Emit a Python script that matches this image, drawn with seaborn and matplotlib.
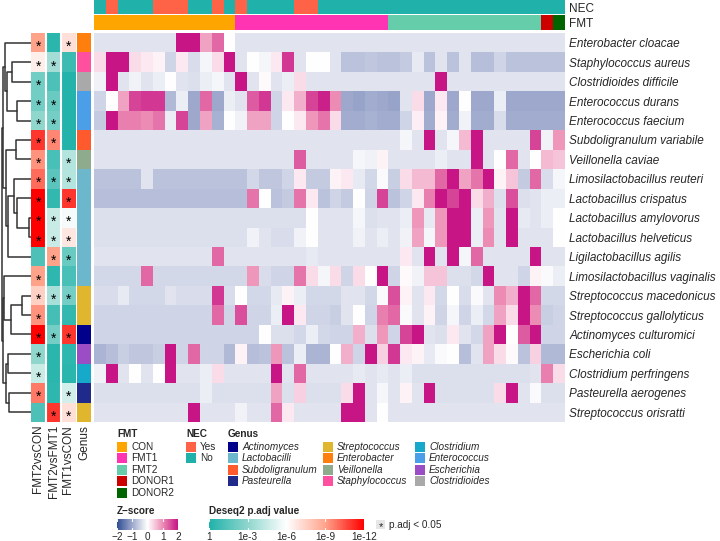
import numpy as np
import pandas as pd
import seaborn as sns
import matplotlib
matplotlib.use("Agg")
import matplotlib.pyplot as plt
import matplotlib.cm as cm
from matplotlib.colors import LinearSegmentedColormap, ListedColormap, Normalize
from matplotlib.patches import Rectangle

# ---- data ----
species = ["Enterobacter cloacae", "Staphylococcus aureus", "Clostridioides difficile",
           "Enterococcus durans", "Enterococcus faecium", "Subdoligranulum variabile",
           "Veillonella caviae", "Limosilactobacillus reuteri", "Lactobacillus crispatus",
           "Lactobacillus amylovorus", "Lactobacillus helveticus", "Ligilactobacillus agilis",
           "Limosilactobacillus vaginalis", "Streptococcus macedonicus", "Streptococcus gallolyticus",
           "Actinomyces culturomici", "Escherichia coli", "Clostridium perfringens",
           "Pasteurella aerogenes", "Streptococcus orisratti"]

genus = ["Enterobacter", "Staphylococcus", "Clostridioides", "Enterococcus", "Enterococcus",
         "Subdoligranulum", "Veillonella", "Lactobacilli", "Lactobacilli", "Lactobacilli",
         "Lactobacilli", "Lactobacilli", "Lactobacilli", "Streptococcus", "Streptococcus",
         "Actinomyces", "Escherichia", "Clostridium", "Pasteurella", "Streptococcus"]

fmt_group = ["CON"] * 12 + ["FMT1"] * 13 + ["FMT2"] * 13 + ["DONOR1", "DONOR2"]
nec_status = ["No", "Yes", "No", "No", "No", "Yes", "Yes", "Yes", "No", "No",
              "Yes", "No", "Yes", "No", "No", "No", "No", "Yes", "Yes", "No",
              "No", "No", "No", "No", "No", "No", "No", "No", "No", "No",
              "No", "No", "No", "No", "No", "No", "No", "No", "No", "No"]

zscores = [
    [-0.3, -0.3, -0.3, -0.3, -0.3, -0.3, -0.3, 2.3, 2.3, 0.8, 1.3, 0.0, -0.3, -0.3, -0.3, -0.3, -0.3, -0.3, -0.3, -0.3,
     -0.3, -0.3, -0.3, -0.3, -0.3, -0.3, -0.3, -0.3, -0.3, -0.3, -0.3, -0.3, -0.3, -0.3, -0.3, -0.3, -0.3, -0.3, -0.3, -0.3],
    [0.3, 2.3, 2.3, 0.3, 0.2, 0.1, -0.5, 0.2, -0.4, -0.1, 0.3, 2.3, -0.3, 0.0, -0.1, 0.2, 1.7, -0.3, 0.0, 0.0,
     -0.3, -0.7, -0.7, -0.65, -0.7, -0.7, -0.6, -0.25, -0.7, -0.3, -0.7, -0.3, -0.75, -0.75, -0.5, -0.7, -0.7, -0.7, -0.7, -0.7],
    [-0.15, 2.3, -0.3, -0.15, -0.3, -0.2, 0.0, -0.3, -0.35, -0.2, -0.1, -0.3, 2.3, -0.3, 0.05, -0.3, -0.2, 0.3, -0.3, -0.3,
     -0.3, -0.3, -0.3, -0.3, -0.3, -0.3, -0.3, -0.3, -0.3, 2.3, -0.3, -0.3, -0.3, -0.3, -0.3, -0.3, -0.3, -0.3, -0.3, -0.3],
    [-0.5, 0.0, 0.8, 1.6, 1.7, 1.7, -0.8, -0.2, -1.0, 1.3, -1.0, -0.2, -0.3, 1.4, 1.7, -0.5, 0.2, 0.7, 1.6, 1.9,
     1.0, -1.0, -1.05, -0.95, -1.0, -1.05, -0.3, 0.3, -1.0, 0.2, -1.0, 0.0, -1.0, -1.0, -0.2, -1.0, -1.0, -1.0, -1.0, -1.0],
    [-0.6, 2.3, 1.1, 1.1, 1.0, 1.2, -0.2, 1.6, -1.0, 0.8, -0.9, 0.0, -0.15, 0.8, 0.8, -0.5, 0.0, 0.2, 0.9, 1.2,
     0.3, -0.95, -0.95, -0.9, -0.95, -0.95, -0.5, 0.15, -0.95, 0.1, -0.95, -0.15, -0.95, -0.95, -0.4, -0.95, -0.95, -0.95, -0.95, -0.95],
    [-0.3, -0.3, -0.3, -0.3, -0.3, -0.3, -0.3, -0.3, -0.3, -0.3, -0.3, -0.3, -0.3, -0.3, -0.3, -0.3, -0.3, -0.3, -0.3, -0.3,
     -0.3, -0.3, -0.3, -0.3, -0.3, -0.3, -0.1, -0.3, 2.3, -0.3, -0.1, 0.6, 2.3, -0.3, -0.3, -0.3, -0.3, 1.6, -0.15, 0.9],
    [-0.3, -0.3, -0.3, -0.3, -0.3, -0.3, -0.3, -0.3, -0.3, -0.3, -0.3, -0.3, -0.3, -0.3, -0.3, -0.3, -0.3, 1.4, -0.3, -0.3,
     -0.3, -0.3, -0.1, -0.15, 0.1, -0.3, -0.3, -0.3, -0.3, -0.2, -0.3, -0.3, 2.3, -0.3, 0.0, 1.3, -0.3, 0.0, 0.6, 0.5],
    [-0.7, -0.7, -0.7, -0.7, -0.3, -0.7, -0.7, -0.7, -0.7, -0.7, -0.7, -0.7, -0.7, -0.45, -0.65, -0.65, -0.5, 0.2, -0.6, -0.6,
     0.1, 0.2, -0.25, -0.45, -0.05, -0.55, 0.3, 0.6, 0.6, 1.3, 2.3, 0.8, 1.2, 2.3, 0.1, 0.5, -0.6, 1.3, -0.4, -0.1],
    [-0.75, -0.75, -0.75, -0.75, -0.75, -0.75, -0.75, -0.75, -0.75, -0.75, -0.75, -0.75, -0.75, 1.2, 0.0, -0.7, -0.6, 1.2, 0.2, -0.7,
     -0.5, -0.6, 0.0, -0.5, 1.6, -0.7, -0.5, 0.2, 1.1, 2.3, 1.6, 2.3, 0.3, 0.7, -0.35, 1.5, -0.35, -0.3, -0.2, -0.2],
    [-0.35, -0.35, -0.35, -0.35, -0.35, -0.35, -0.35, -0.35, -0.35, -0.35, -0.35, -0.35, -0.35, -0.35, -0.35, -0.35, -0.35, -0.35, 0.0, -0.3,
     -0.3, -0.3, -0.1, -0.35, -0.3, -0.3, -0.2, 0.9, -0.25, 0.9, 2.3, 2.3, -0.2, 0.9, -0.3, 2.3, -0.25, -0.3, -0.2, 0.0],
    [-0.35, -0.35, -0.35, -0.35, -0.35, -0.35, -0.35, -0.35, -0.35, -0.35, -0.35, -0.35, -0.35, -0.15, -0.3, -0.4, -0.4, -0.15, 0.0, -0.3,
     -0.3, -0.3, -0.15, -0.3, -0.2, -0.3, -0.15, 0.8, -0.1, 0.9, 2.3, 2.3, -0.2, 1.0, -0.3, 2.3, -0.3, -0.3, -0.3, 0.0],
    [-0.3, -0.3, -0.3, -0.3, -0.3, -0.3, -0.3, -0.3, -0.3, -0.3, 1.3, -0.3, -0.3, -0.3, -0.3, -0.3, -0.3, -0.3, -0.25, -0.3,
     -0.3, -0.3, -0.3, -0.3, -0.3, -0.3, 0.2, -0.3, 2.3, -0.3, 2.3, -0.1, 1.3, -0.3, -0.3, -0.3, -0.3, 2.3, -0.3, -0.3],
    [-0.45, -0.45, -0.45, -0.45, 1.3, -0.45, -0.45, -0.45, -0.45, -0.45, -0.45, -0.45, -0.45, 0.9, -0.4, -0.5, -0.5, 1.2, 0.3, -0.1,
     0.3, -0.5, 0.3, 0.0, 2.3, -0.5, 0.05, -0.15, 0.5, 0.5, -0.35, -0.35, -0.45, 2.3, -0.3, -0.3, -0.5, 0.1, -0.05, -0.2],
    [-0.4, -0.4, -0.25, -0.45, -0.45, -0.45, -0.3, -0.4, -0.4, -0.4, 1.7, -0.4, 0.0, -0.45, -0.45, -0.25, 0.1, -0.2, -0.45, -0.45,
     -0.45, -0.3, -0.3, -0.45, -0.05, 1.5, 0.1, -0.3, 0.2, -0.45, 0.0, -0.4, -0.05, -0.3, 1.0, 0.7, 2.3, 1.3, -0.45, -0.45],
    [-0.5, -0.5, -0.5, -0.5, -0.5, -0.5, -0.5, -0.5, -0.5, -0.5, 1.3, -0.5, 1.5, -0.5, -0.5, -0.2, 2.3, 0.2, -0.5, -0.5,
     -0.55, -0.3, 0.0, -0.5, 1.1, 1.3, -0.05, -0.3, 0.1, -0.5, -0.1, -0.5, -0.2, -0.45, 0.8, 0.3, 2.3, 1.0, -0.55, -0.5],
    [-0.5, -0.5, -0.5, -0.5, -0.5, -0.5, -0.5, -0.5, -0.5, -0.5, -0.5, -0.5, -0.5, -0.5, 0.0, -0.35, -0.35, -0.45, -0.2, -0.45,
     -0.5, -0.5, 0.7, -0.35, 0.9, -0.5, 1.6, 2.3, -0.3, -0.35, 0.2, -0.3, -0.45, 0.8, 2.3, 0.0, 1.4, 2.3, -0.5, -0.5],
    [-0.85, -0.75, -0.55, -0.65, -0.65, -0.55, 2.3, -0.5, 1.3, -0.5, -0.5, -0.8, 0.1, -0.75, -0.7, 0.9, -0.7, -0.2, -0.85, -0.85,
     0.0, 0.7, -0.5, 2.3, 0.4, 1.7, 0.2, 0.1, -0.25, -0.05, 0.0, -0.75, -0.3, 0.8, 0.3, 0.05, -0.7, 0.4, -0.8, -0.8],
    [-0.15, 2.3, -0.3, 0.0, -0.3, 0.0, 2.3, -0.3, -0.3, -0.2, 0.3, -0.3, -0.3, -0.3, -0.3, 2.3, -0.3, 1.3, -0.3, -0.3,
     -0.3, -0.3, -0.25, -0.3, -0.25, -0.3, -0.2, -0.35, -0.35, -0.35, -0.35, -0.35, -0.35, -0.35, -0.35, -0.35, -0.35, -0.3, 1.1, 0.3],
    [-0.35, -0.35, -0.35, -0.35, -0.35, -0.35, -0.35, -0.35, -0.35, -0.2, -0.35, -0.35, -0.35, -0.35, -0.35, 0.8, -0.35, 0.4, -0.35, -0.35,
     -0.35, 0.3, 2.3, -0.3, -0.1, -0.3, 0.1, -0.3, 2.3, -0.35, -0.35, -0.35, -0.35, -0.35, 0.3, 2.3, -0.3, -0.05, -0.35, -0.35],
    [-0.3, -0.3, -0.3, -0.3, -0.3, -0.3, -0.3, -0.3, 2.3, -0.3, -0.3, -0.3, -0.15, -0.3, -0.3, 1.3, 0.2, -0.3, -0.3, -0.3,
     -0.3, 2.3, 2.3, -0.3, 0.0, -0.3, -0.3, -0.3, -0.3, -0.3, -0.3, -0.3, -0.3, -0.3, -0.3, -0.3, -0.3, -0.3, -0.3, -0.3],
]

comparisons = ["FMT2vsCON", "FMT2vsFMT1", "FMT1vsCON"]
padj_fmt2_con = [1e-9, 3e-7, 6e-3, 6e-3, 1e-3, 1e-11, 5e-10, 1e-10, 1e-12, 1e-12,
                 1e-12, 0.06, 1e-9, 3e-8, 5e-10, 1e-12, 1e-3, 3e-5, 1.6e-10, 0.06]
padj_fmt2_fmt1 = [0.5, 3e-4, 0.06, 0.01, 5e-3, 3e-10, 0.08, 0.025, 0.3, 3e-5,
                  3e-5, 1e-9, 0.4, 2e-4, 0.1, 5e-3, 0.5, 0.5, 0.4, 1e-11]
padj_fmt1_con = [1e-7, 0.16, 0.8, 0.8, 0.8, 0.8, 1e-4, 1e-4, 1e-11, 2e-6,
                 1.6e-7, 0.01, 0.08, 5e-3, 0.3, 1e-11, 0.4, 0.5, 1.6e-5, 1e-7]

# row dendrogram merges: (left, right, height) -- new node ids start at 20
dendro_merges = [(9, 10, 1.7), (13, 14, 9.0), (8, 20, 14.0), (3, 4, 14.0), (5, 6, 15.0),
                 (7, 22, 16.7), (1, 2, 19.3), (21, 15, 20.0), (18, 19, 21.7), (25, 11, 22.7),
                 (16, 17, 23.3), (26, 23, 24.0), (24, 29, 25.3), (30, 28, 25.3), (0, 31, 26.0),
                 (12, 27, 26.7), (34, 32, 28.3), (35, 33, 27.7), (36, 37, 29.3)]

fmt_levels = ["CON", "FMT1", "FMT2", "DONOR1", "DONOR2"]
fmt_colors = ["#FFA500", "#FF34B3", "#66CDAA", "#CD0000", "#006400"]
nec_levels = ["Yes", "No"]
nec_colors = ["#FF6347", "#20B2AA"]
genus_levels = ["Actinomyces", "Lactobacilli", "Subdoligranulum", "Pasteurella",
                "Streptococcus", "Enterobacter", "Veillonella", "Staphylococcus",
                "Clostridium", "Enterococcus", "Escherichia", "Clostridioides"]
genus_colors = ["#00008B", "#6CB7CC", "#FF5A2E", "#1F2A8A", "#E0B62F", "#FF7F0E",
                "#8EAB8D", "#FF4F9F", "#17A9CA", "#4B9EE8", "#9A4DC4", "#A9A9A9"]

# ---- setup ----
sns.set_theme(style="white")
plt.rcParams["font.family"] = ["Liberation Sans", "DejaVu Sans"]

W, H = 720, 541
fig = plt.figure(figsize=(7.2, 5.41), dpi=100)


def px_axes(x0, y0, x1, y1):
    return fig.add_axes([x0 / W, 1 - y1 / H, (x1 - x0) / W, (y1 - y0) / H])


z_cmap = LinearSegmentedColormap.from_list(
    "z", [(0, "#2F4E93"), (0.25, "#9DA8CC"), (0.5, "#FFFFFF"), (0.75, "#EC8CB4"), (1, "#C71585")])
p_cmap = LinearSegmentedColormap.from_list(
    "p", [(0, "#20B2AA"), (0.25, "#8FD6CD"), (0.5, "#FFFFFF"), (0.75, "#FFA48C"), (1, "#FF0000")])

# main heatmap
ax_main = px_axes(94, 33, 565, 422)
zdf = pd.DataFrame(zscores, index=species)
sns.heatmap(zdf, ax=ax_main, cmap=z_cmap, vmin=-2, vmax=2, cbar=False,
            xticklabels=False, yticklabels=True)
ax_main.yaxis.tick_right()
ax_main.set_yticklabels(species, rotation=0, fontsize=8.5, fontstyle="italic")
ax_main.tick_params(axis="y", length=0, pad=3)
ax_main.set_ylabel("")

# top annotation bars
ax_nec = px_axes(94, 0, 565, 14)
sns.heatmap([[nec_levels.index(v) for v in nec_status]], ax=ax_nec,
            cmap=ListedColormap(nec_colors), vmin=-0.5, vmax=1.5, cbar=False,
            xticklabels=False, yticklabels=["NEC"])
ax_fmt = px_axes(94, 15, 565, 30)
sns.heatmap([[fmt_levels.index(v) for v in fmt_group]], ax=ax_fmt,
            cmap=ListedColormap(fmt_colors), vmin=-0.5, vmax=4.5, cbar=False,
            xticklabels=False, yticklabels=["FMT"])
for a in (ax_nec, ax_fmt):
    a.yaxis.tick_right()
    a.set_yticklabels(a.get_yticklabels(), rotation=0, fontsize=8.5)
    a.tick_params(axis="y", length=0, pad=3)

# p.adj annotation columns
padj = pd.DataFrame({"FMT2vsCON": padj_fmt2_con, "FMT2vsFMT1": padj_fmt2_fmt1,
                     "FMT1vsCON": padj_fmt1_con}, index=species)
neglog = -np.log10(padj)
stars = np.where(padj.values < 0.05, "*", "")
ax_p = px_axes(31, 33, 76, 422)
sns.heatmap(neglog, ax=ax_p, cmap=p_cmap, vmin=0, vmax=12, cbar=False,
            annot=stars, fmt="", annot_kws={"fontsize": 10, "color": "black"},
            xticklabels=comparisons, yticklabels=False)
for t in ax_p.texts:
    x, y = t.get_position()
    t.set_position((x, y + 0.22))
ax_p.axvline(1, color="white", lw=1.5)
ax_p.axvline(2, color="white", lw=1.5)
ax_p.set_xticklabels(comparisons, rotation=90, fontsize=8.5)
ax_p.tick_params(axis="x", length=0, pad=2)

# genus column
ax_g = px_axes(77, 33, 91, 422)
sns.heatmap([[genus_levels.index(g)] for g in genus], ax=ax_g,
            cmap=ListedColormap(genus_colors), vmin=-0.5, vmax=len(genus_levels) - 0.5,
            cbar=False, xticklabels=["Genus"], yticklabels=False)
ax_g.set_xticklabels(["Genus"], rotation=90, fontsize=8.5)
ax_g.tick_params(axis="x", length=0, pad=2)

# row dendrogram
ax_d = px_axes(0, 33, 31, 422)
pos = {i: (0.0, i + 0.5) for i in range(len(species))}
for k, (a, b, h) in enumerate(dendro_merges):
    xa, ya = pos[a]
    xb, yb = pos[b]
    ax_d.plot([xa, h, h, xb], [ya, ya, yb, yb], color="#333333", lw=1.1)
    pos[len(species) + k] = (h, (ya + yb) / 2)
ax_d.set_xlim(31, 0)
ax_d.set_ylim(len(species), 0)
ax_d.axis("off")

# ---- legends ----
ax_leg = fig.add_axes([0, 0, 1, 1])
ax_leg.set_xlim(0, W)
ax_leg.set_ylim(H, 0)
ax_leg.axis("off")

lfs = 7.2
row_h = 11.6


def legend_block(x, y, title, labels, colors, italic=False):
    if title:
        ax_leg.text(x, y, title, fontsize=lfs, fontweight="bold", va="center")
    for i, (lab, col) in enumerate(zip(labels, colors)):
        yy = y + 12.5 + i * row_h
        ax_leg.add_patch(Rectangle((x, yy - 5), 10, 10, color=col, lw=0))
        ax_leg.text(x + 14, yy, lab, fontsize=lfs, va="center",
                    fontstyle="italic" if italic else "normal")


legend_block(117, 434, "FMT", fmt_levels, fmt_colors)
legend_block(186, 434, "NEC", nec_levels, nec_colors)
legend_block(228, 434, "Genus", genus_levels[:4], genus_colors[:4], italic=True)
legend_block(323, 434, None, genus_levels[4:8], genus_colors[4:8], italic=True)
legend_block(415, 434, None, genus_levels[8:], genus_colors[8:], italic=True)

# colour bars
ax_leg.text(117, 511, "Z\u2212score", fontsize=lfs, fontweight="bold", va="center")
cax_z = px_axes(117, 519, 178, 530)
cb_z = fig.colorbar(cm.ScalarMappable(norm=Normalize(-2, 2), cmap=z_cmap),
                    cax=cax_z, orientation="horizontal")
cb_z.set_ticks([-2, -1, 0, 1, 2])
ax_leg.text(209, 511, "Deseq2 p.adj value", fontsize=lfs, fontweight="bold", va="center")
cax_p = px_axes(209, 519, 364, 530)
cb_p = fig.colorbar(cm.ScalarMappable(norm=Normalize(0, 12), cmap=p_cmap),
                    cax=cax_p, orientation="horizontal")
cb_p.set_ticks([0, 3, 6, 9, 12])
cb_p.set_ticklabels(["1", "1e-3", "1e-6", "1e-9", "1e-12"])
for cb in (cb_z, cb_p):
    cb.outline.set_visible(False)
    cb.ax.tick_params(length=0, labelsize=lfs, pad=1.5)
    for v in cb.get_ticks():
        cb.ax.axvline(v, ymin=0, ymax=0.15, color="white", lw=0.8)
        cb.ax.axvline(v, ymin=0.85, ymax=1, color="white", lw=0.8)

ax_leg.add_patch(Rectangle((376, 520), 9, 9, color="#E6E6E6", lw=0))
ax_leg.text(380.5, 527, "*", fontsize=8, ha="center", va="center")
ax_leg.text(389, 524.5, "p.adj < 0.05", fontsize=lfs, va="center")

fig.savefig("out.png", dpi=100, facecolor="white")
